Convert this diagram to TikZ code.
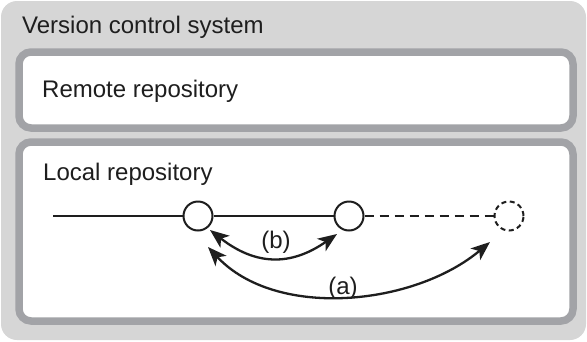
\documentclass[tikz,border=0pt]{standalone}
\usepackage{fontspec}
\setmainfont{Liberation Sans}
\usetikzlibrary{arrows.meta}
\definecolor{outerfill}{RGB}{214,214,214}
\definecolor{boxline}{RGB}{162,163,167}
\definecolor{ink}{RGB}{30,30,30}
\begin{document}
\begin{tikzpicture}[x=1pt,y=-1pt,
  repobox/.style={draw=boxline, fill=white, line width=7.5pt, rounded corners=12pt},
  lbl/.style={font=\fontsize{24}{28}\selectfont, anchor=base west, inner sep=0pt, text=ink},
  tag/.style={font=\fontsize{24}{28}\selectfont, inner sep=0pt, text=ink},
  commit/.style={circle, draw=ink, line width=2pt, minimum size=29pt, inner sep=0pt, fill=white},
  hist/.style={draw=ink, line width=2pt},
  jump/.style={draw=ink, line width=2.3pt, {Stealth[length=19pt,width=15pt,inset=5pt]}-{Stealth[length=19pt,width=15pt,inset=5pt]}}
]
\useasboundingbox (0,0) rectangle (587,341);
\fill[outerfill, rounded corners=16pt] (1,1) rectangle (586,340);
\draw[repobox] (19,52) rectangle (573,128);
\draw[repobox] (19,142) rectangle (573,321);
\node[lbl] (vcs) at (22,33) {Version control system};
\node[lbl] (remote) at (42,97) {Remote repository};
\node[lbl] (local) at (43,180) {Local repository};
\coordinate (s) at (53,216);
\node[commit] (c1) at (198,216) {};
\node[commit] (c2) at (349,216) {};
\node[commit, dash pattern=on 5pt off 3.5pt] (c3) at (509,216) {};
\draw[hist] (s) -- (c1);
\draw[hist] (c1) -- (c2);
\draw[hist, dash pattern=on 9pt off 6pt] (c2) -- (c3);
\path (c1) ++(12,14) coordinate (b1);
\path (c2) ++(-12,18) coordinate (b2);
\path (c1) ++(10,31) coordinate (a1);
\path (c3) ++(-19,26) coordinate (a2);
\draw[jump] (b1) to[out=-38,in=-145,looseness=1.15] (b2);
\draw[jump] (a1) to[out=-47,in=-140,looseness=0.9] (a2);
\node[tag] (lb) at (276,242) {(b)};
\node[tag] (la) at (343,288) {(a)};
\end{tikzpicture}
\end{document}
